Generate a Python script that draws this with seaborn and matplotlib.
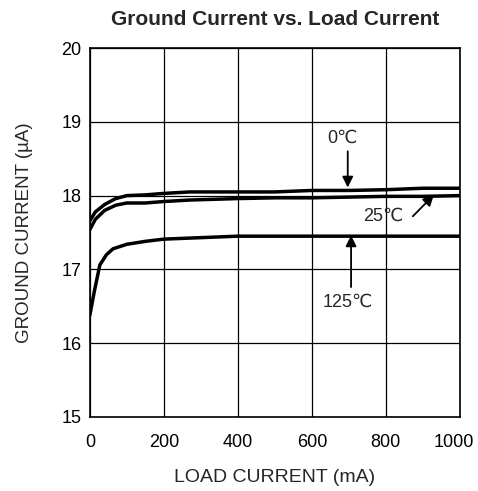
import matplotlib
matplotlib.use("Agg")
import matplotlib.pyplot as plt
import matplotlib.transforms as mtransforms
import seaborn as sns
import pandas as pd

# load current (mA) and ground current (uA)
load_0c = [0, 15, 40, 70, 100, 150, 200, 270, 400, 500, 600, 700, 800, 900, 1000]
gnd_0c = [17.66, 17.78, 17.88, 17.96, 18.0, 18.01, 18.03, 18.05, 18.05, 18.05, 18.07, 18.07, 18.08, 18.1, 18.1]

load_25c = [0, 15, 40, 70, 100, 150, 200, 270, 400, 500, 600, 700, 800, 900, 1000]
gnd_25c = [17.54, 17.68, 17.8, 17.87, 17.9, 17.9, 17.92, 17.94, 17.96, 17.97, 17.97, 17.98, 17.99, 17.99, 18.0]

load_125c = [0, 12, 27, 45, 63, 100, 150, 200, 300, 400, 600, 800, 1000]
gnd_125c = [16.38, 16.7, 17.06, 17.2, 17.28, 17.34, 17.38, 17.41, 17.43, 17.45, 17.45, 17.45, 17.45]

x_ticks = [0, 200, 400, 600, 800, 1000]
y_ticks = [15, 16, 17, 18, 19, 20]

df = pd.concat([
    pd.DataFrame({"load": load_0c, "gnd": gnd_0c, "temp": "0C"}),
    pd.DataFrame({"load": load_25c, "gnd": gnd_25c, "temp": "25C"}),
    pd.DataFrame({"load": load_125c, "gnd": gnd_125c, "temp": "125C"}),
])

sns.set_style("white")
plt.rcParams["font.family"] = ["Liberation Sans", "DejaVu Sans"]

fig = plt.figure(figsize=(4.78, 4.91), dpi=100)
ax = fig.add_axes([0.188, 0.151, 0.774, 0.751])

sns.lineplot(data=df, x="load", y="gnd", hue="temp", palette=["black"] * 3,
             linewidth=2.5, legend=False, ax=ax, estimator=None, sort=False)

ax.set_xlim(0, 1000)
ax.set_ylim(15, 20)
ax.set_xticks(x_ticks)
ax.set_yticks(y_ticks)
ax.grid(True, color="black", linewidth=0.9)
for s in ax.spines.values():
    s.set_color("black")
    s.set_linewidth(1.2)
ax.tick_params(axis="both", labelsize=13, colors="black", length=0)
ax.tick_params(axis="x", pad=12)
ax.tick_params(axis="y", pad=6)

# nudge the last x tick label so it stays inside the figure
last = ax.get_xticklabels()[-1]
last.set_transform(last.get_transform() + mtransforms.ScaledTranslation(-4 / 72, 0, fig.dpi_scale_trans))

ax.set_xlabel("LOAD CURRENT (mA)", fontsize=14, va="center")
ax.xaxis.set_label_coords(0.5, -0.165)
ax.set_ylabel("GROUND CURRENT (µA)", fontsize=13.5, va="center")
ax.yaxis.set_label_coords(-0.176, 0.5)

fig.text(0.575, 0.96, "Ground Current vs. Load Current", ha="center", va="center",
         fontsize=15, fontweight="bold")

arrow = dict(arrowstyle="-|>", color="black", lw=1.3, mutation_scale=16, shrinkA=0, shrinkB=0)
ax.text(684, 18.78, "0℃", fontsize=13, ha="center", va="center")
ax.annotate("", xy=(697, 18.11), xytext=(697, 18.6), arrowprops=arrow)
ax.text(792, 17.72, "25℃", fontsize=13, ha="center", va="center")
ax.annotate("", xy=(930, 18.01), xytext=(873, 17.72), arrowprops=arrow)
ax.text(697, 16.55, "125℃", fontsize=13, ha="center", va="center")
ax.annotate("", xy=(706, 17.46), xytext=(706, 16.76), arrowprops=arrow)

fig.savefig("out.png", dpi=100)
